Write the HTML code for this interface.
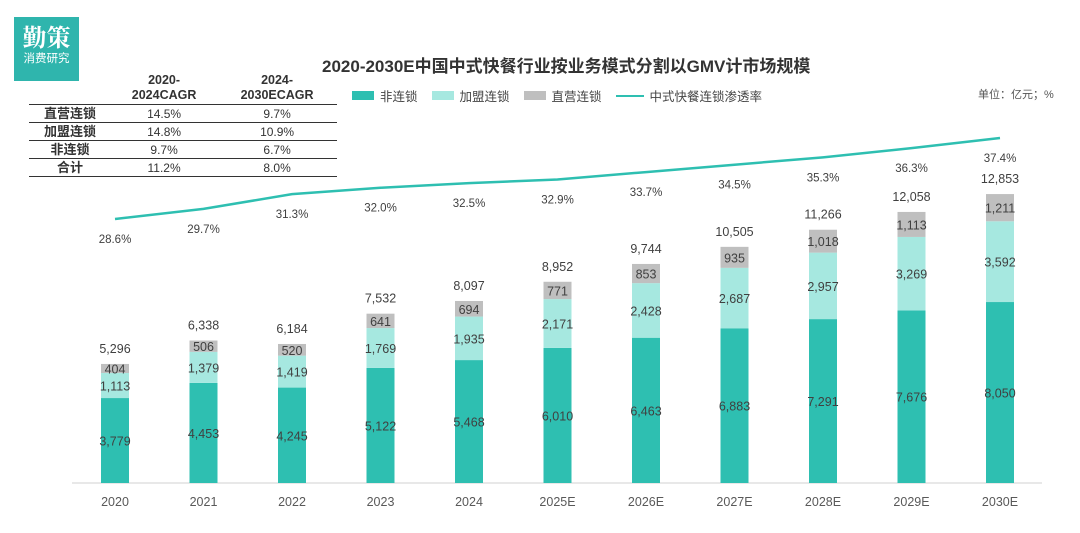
<!DOCTYPE html>
<html><head><meta charset="utf-8"><style>
body{margin:0;background:#fff;font-family:"Liberation Sans","Noto Sans CJK SC",sans-serif;}
#wrap{position:relative;width:1080px;height:533px;overflow:hidden;}
.t{position:absolute;color:#333;}
table{border-collapse:collapse;position:absolute;left:29px;top:72px;width:308px;font-size:12px;color:#333}
td,th{padding:0;text-align:center;height:17px;line-height:16px}
th{font-weight:bold;font-size:12.5px;line-height:15px;height:32px}
tr.b td{border-top:1.5px solid #333}
tr.last td{border-bottom:1.5px solid #333}
td.l{font-weight:bold;font-size:13px}
</style></head><body><div id="wrap">
<div style="position:absolute;left:14px;top:17px;width:65px;height:64px;background:#2fb5ad;color:#fff;text-align:center">
<div style="font-size:24px;font-weight:bold;line-height:30px;margin-top:4px;font-family:'Noto Serif CJK SC',serif">勤策</div>
<div style="font-size:11.5px;line-height:16px">消费研究</div></div>
<div class="t" style="left:322px;top:52px;font-size:17px;font-weight:bold;color:#333">2020-2030E中国中式快餐行业按业务模式分割以GMV计市场规模</div>
<table>
<tr><th style="width:82px"></th><th>2020-<br>2024CAGR</th><th>2024-<br>2030ECAGR</th></tr>
<tr class="b"><td class="l">直营连锁</td><td>14.5%</td><td>9.7%</td></tr>
<tr class="b"><td class="l">加盟连锁</td><td>14.8%</td><td>10.9%</td></tr>
<tr class="b"><td class="l">非连锁</td><td>9.7%</td><td>6.7%</td></tr>
<tr class="b last"><td class="l">合计</td><td>11.2%</td><td>8.0%</td></tr>
</table>
<div style="position:absolute;left:352px;top:86px;font-size:12.5px;color:#444;display:flex;align-items:center;gap:6px">
<span style="width:22px;height:9px;background:#2ebfb1;display:inline-block"></span>非连锁
<span style="width:22px;height:9px;background:#a6e8e0;display:inline-block;margin-left:8px"></span>加盟连锁
<span style="width:22px;height:9px;background:#bfbfbf;display:inline-block;margin-left:8px"></span>直营连锁
<span style="width:28px;height:2px;background:#2ebfb1;display:inline-block;margin-left:8px"></span>中式快餐连锁渗透率</div>
<div class="t" style="left:978px;top:86px;font-size:11px;color:#555">单位：亿元；%</div>
<svg id="svg" width="1080" height="533" style="position:absolute;left:0;top:0"></svg>
</div>
<script>
const categories=["2020","2021","2022","2023","2024","2025E","2026E","2027E","2028E","2029E","2030E"];
const nonChain=[3779,4453,4245,5122,5468,6010,6463,6883,7291,7676,8050];
const franchise=[1113,1379,1419,1769,1935,2171,2428,2687,2957,3269,3592];
const direct=[404,506,520,641,694,771,853,935,1018,1113,1211];
const totals=[5296,6338,6184,7532,8097,8952,9744,10505,11266,12058,12853];
const penetration=[28.6,29.7,31.3,32.0,32.5,32.9,33.7,34.5,35.3,36.3,37.4];
const svg=document.getElementById('svg');const NS='http://www.w3.org/2000/svg';
const base=483, k=0.02248;
const x=i=>115+i*88.5;
const y=v=>base-v*k;
const yl=p=>219-(p-28.6)*9.2;
const fmt=v=>v.toLocaleString('en-US');
function mk(tag,a){const e=document.createElementNS(NS,tag);for(const q in a)e.setAttribute(q,a[q]);svg.appendChild(e);return e;}
function txt(s,xx,yy,size,name,fill){const e=mk('text',{x:xx,y:yy,'text-anchor':'middle','font-size':size,fill:fill||'#404040','font-family':'Liberation Sans, sans-serif'});e.textContent=s;

return e;}
const ax=mk('line',{x1:72,x2:1042,y1:base,y2:base,stroke:'#d0d0d0','stroke-width':1});


const w=28;
categories.forEach((c,i)=>{
 const y0=base,y1=y(nonChain[i]),y2=y(nonChain[i]+franchise[i]),y3=y(nonChain[i]+franchise[i]+direct[i]);
 const r1=mk('rect',{x:x(i)-w/2,y:y1,width:w,height:y0-y1,fill:'#2ebfb1'});
 
 
 const r2=mk('rect',{x:x(i)-w/2,y:y2,width:w,height:y1-y2,fill:'#a6e8e0'});
 
 
 const r3=mk('rect',{x:x(i)-w/2,y:y3,width:w,height:y2-y3,fill:'#bfbfbf'});
 
 
 txt(fmt(nonChain[i]),x(i),(y0+y1)/2+5,12.5,'label-non-chain');
 txt(fmt(franchise[i]),x(i),(y1+y2)/2+5,12.5,'label-franchise');
 txt(fmt(direct[i]),x(i),(y2+y3)/2+5,12.5,'label-direct');
 txt(fmt(totals[i]),x(i),y3-11,12.5,'label-total');
 txt(c,x(i),506,12.5,'x-tick-label','#595959');
 txt(penetration[i].toFixed(1)+'%',x(i),yl(penetration[i])+24,11.5,'label-penetration');
});
const pl=mk('polyline',{points:penetration.map((p,i)=>x(i)+','+yl(p)).join(' '),fill:'none',stroke:'#2ebfb1','stroke-width':2.5});


</script></body></html>
